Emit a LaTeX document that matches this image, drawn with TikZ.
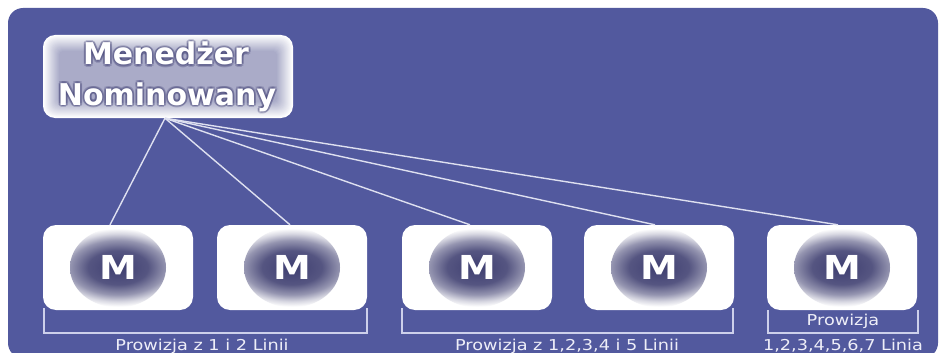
\documentclass[tikz,border=0pt]{standalone}
\usepackage{fontspec}
\setmainfont{DejaVu Sans}
\usetikzlibrary{calc}
\definecolor{bg}{RGB}{82,89,158}
\definecolor{glowc}{RGB}{62,62,112}
\colorlet{glowb}{glowc!88!white}
\colorlet{glowd}{glowc!55!white}
\colorlet{glowe}{glowc!20!white}
\definecolor{mgrey}{RGB}{166,168,198}
\definecolor{linec}{RGB}{222,224,240}
\definecolor{brc}{RGB}{205,208,235}
\definecolor{lbl}{RGB}{238,238,248}
\definecolor{shc}{RGB}{70,70,120}
\pgfdeclareradialshading{mglow}{\pgfpoint{0bp}{0bp}}{color(0bp)=(glowc); color(10bp)=(glowb); color(16bp)=(glowd); color(20bp)=(glowe); color(23bp)=(white); color(50bp)=(white)}
\tikzset{
  mbox/.style={rounded corners=13pt, fill=white, minimum width=150pt, minimum height=85pt,
    inner sep=0pt, text=white, font=\fontsize{33}{33}\selectfont\bfseries,
    path picture={\shade[shading=mglow] (path picture bounding box.center) ellipse [x radius=48pt, y radius=40pt];}},
  mgrtext/.style={anchor=base, inner sep=0pt, font=\fontsize{30}{30}\selectfont\bfseries},
  conn/.style={draw=linec, line width=1.4pt},
  brk/.style={draw=brc, line width=1.2pt},
  lbltext/.style={anchor=base, inner sep=0pt, text=lbl, font=\fontsize{15}{15}\selectfont}
}
\begin{document}
\begin{tikzpicture}[x=1pt, y=-1pt]
\useasboundingbox (0,0) rectangle (940,353);
\clip (0,0) rectangle (940,353);
\fill[bg, rounded corners=15pt] (8,8) rectangle (938,358);
% manager box gradient
\foreach \i in {0,...,16} {
  \pgfmathsetmacro\p{\i*6}
  \pgfmathsetmacro\rc{max(12-\i*0.5,3)}
  \fill[mgrey!\p!white, rounded corners=\rc pt] ({43+\i},{35+\i}) rectangle ({293-\i},{118-\i});
}
\node[minimum width=250pt, minimum height=83pt, inner sep=0pt] (mgr) at (168,76.5) {};
% soft text halo
\foreach \dx/\dy [count=\k] in {-2/0, 2/0, 0/-2, 0/2, -1.5/-1.5, 1.5/1.5, -1.5/1.5, 1.5/-1.5} {
  \node[mgrtext, text=shc, opacity=0.28] (mgrsha\k) at ({166+\dx},{65+\dy}) {Menedżer};
  \node[mgrtext, text=shc, opacity=0.28] (mgrshb\k) at ({167+\dx},{105+\dy}) {Nominowany};
}
\node[mgrtext, text=white] (mgrl1) at (166,65) {Menedżer};
\node[mgrtext, text=white] (mgrl2) at (167,105) {Nominowany};
% M boxes
\node[mbox] (m1) at (118,267.5) {\scalebox{1.15}[1]{M}};
\node[mbox] (m2) at (292,267.5) {\scalebox{1.15}[1]{M}};
\node[mbox] (m3) at (477,267.5) {\scalebox{1.15}[1]{M}};
\node[mbox] (m4) at (659,267.5) {\scalebox{1.15}[1]{M}};
\node[mbox] (m5) at (842,267.5) {\scalebox{1.15}[1]{M}};
% connectors
\coordinate (hub) at ([xshift=-3pt]mgr.south);
\draw[conn] (hub) -- ([xshift=-8pt]m1.north);
\draw[conn] (hub) -- ([xshift=-2pt]m2.north);
\draw[conn] (hub) -- ([xshift=-7pt]m3.north);
\draw[conn] (hub) -- ([xshift=-4pt]m4.north);
\draw[conn] (hub) -- ([xshift=-4pt]m5.north);
% brackets
\draw[brk] (44,308) |- (367,333) -- (367,308);
\draw[brk] (402,308) |- (733,333) -- (733,308);
\draw[brk] (768,310) |- (918,333) -- (918,310);
% labels
\node[lbltext] (l1) at (202,350) {\scalebox{1.18}[1]{Prowizja z 1 i 2 Linii}};
\node[lbltext] (l2) at (567,350) {\scalebox{1.18}[1]{Prowizja z 1,2,3,4 i 5 Linii}};
\node[lbltext] (l3a) at (843,325) {\scalebox{1.18}[1]{Prowizja}};
\node[lbltext] (l3b) at (843,350) {\scalebox{1.18}[1]{1,2,3,4,5,6,7 Linia}};
\end{tikzpicture}
\end{document}
